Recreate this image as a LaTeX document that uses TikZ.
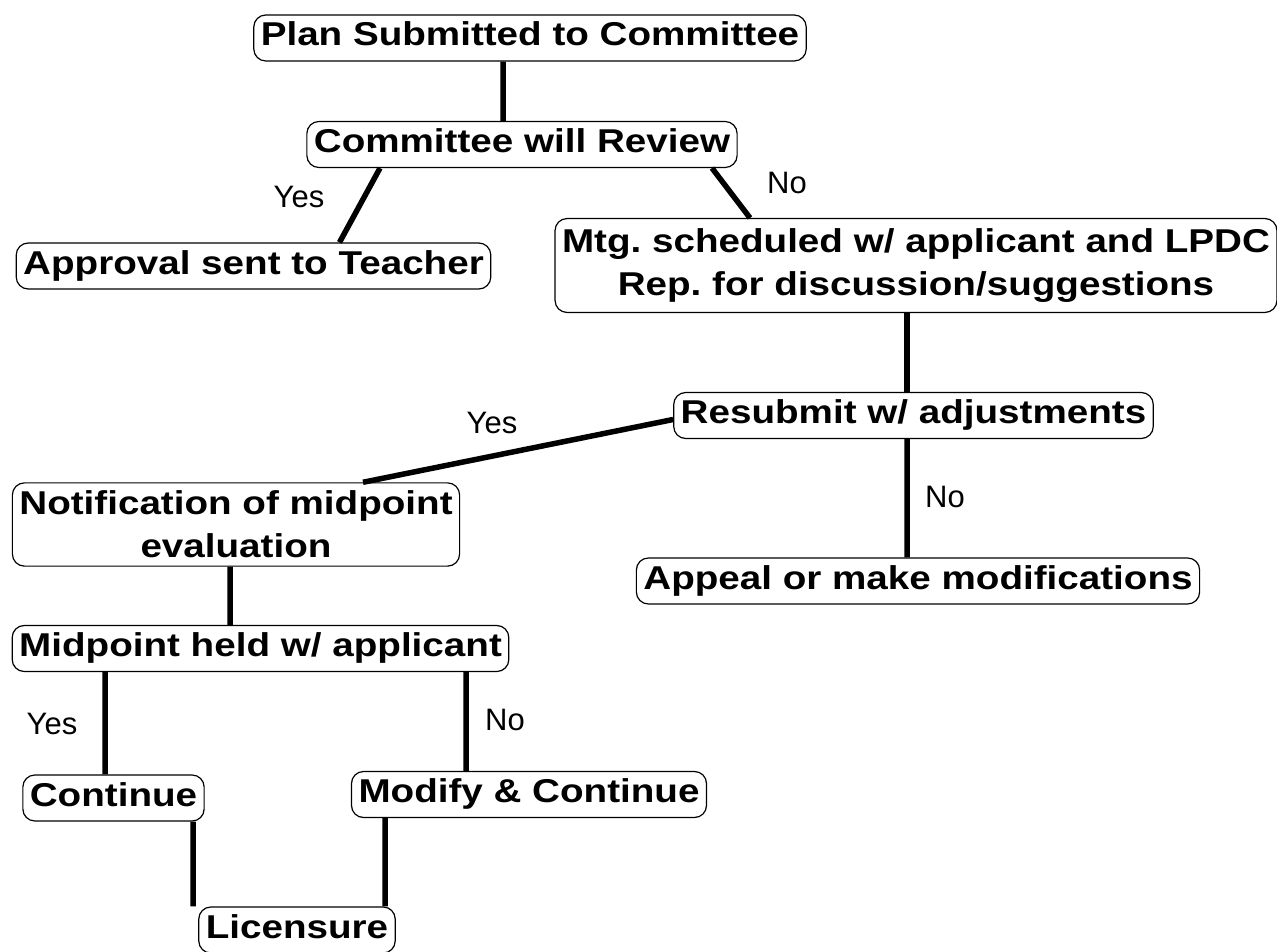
\documentclass[tikz,border=0pt]{standalone}
\usepackage{fontspec}
\setmainfont{Liberation Sans}[FakeStretch=1.17]
\newfontfamily\lblfont{Liberation Sans}
\frenchspacing

\tikzset{
  box/.style={draw, rounded corners=12pt, line width=1.2pt, align=center,
    font=\fontsize{33}{43}\selectfont\bfseries, inner xsep=7pt, inner ysep=8pt},
  oneline/.style={text height=23pt, text depth=7pt},
  ans/.style={font=\lblfont\fontsize{31}{37}\selectfont},
  link/.style={line width=5.5pt}
}

\begin{document}
\begin{tikzpicture}[x=10pt, y=-10pt]

  \useasboundingbox (0, 0) rectangle (127.7, 95.2);

  \node [box, oneline] (plan)   at (53.0,  3.8)  {Plan Submitted to Committee};
  \node [box, oneline] (review) at (52.2,  14.45) {Committee will Review};
  \node [box, oneline] (approve) at (25.35, 26.6) {Approval sent to Teacher};
  \node [box, inner ysep=10pt] (mtg) at (91.6, 26.55)
        {Mtg. scheduled w/ applicant and LPDC\\Rep. for discussion/suggestions};
  \node [box, oneline] (resub)  at (91.35, 41.55) {Resubmit w/ adjustments};
  \node [box] (notif) at (23.6, 52.45) {Notification of midpoint\\evaluation};
  \node [box, oneline] (appeal) at (91.8,  58.1)  {Appeal or make modifications};
  \node [box, oneline] (mid)    at (26.05, 64.85) {Midpoint held w/ applicant};
  \node [box, oneline] (cont)   at (11.35, 79.8)  {Continue};
  \node [box, oneline] (modify) at (52.9,  79.45) {Modify \& Continue};
  \node [box, oneline] (lic)    at (29.7,  93.0)  {Licensure};

  \node [ans] (yes1) at (29.9, 19.7) {Yes};
  \node [ans] (no1)  at (78.7, 18.3) {No};
  \node [ans] (yes2) at (49.2, 42.3) {Yes};
  \node [ans] (no2)  at (94.5, 49.7) {No};
  \node [ans] (yes3) at ( 5.2, 72.4) {Yes};
  \node [ans] (no3)  at (50.5, 72.0) {No};

  \draw [link] ([xshift=-27pt]plan.south) -- ([xshift=-19pt]review.north);
  \draw [link] ([xshift=-142pt]review.south) -- ([xshift=86pt]approve.north);
  \draw [link] ([xshift=190pt]review.south) -- ([xshift=-166pt]mtg.north);
  \draw [link] ([xshift=-9pt]mtg.south) -- ([xshift=-6.5pt]resub.north);
  \draw [link] ([yshift=-4pt]resub.west) -- ([xshift=127pt]notif.north);
  \draw [link] ([xshift=-6.5pt]resub.south) -- ([xshift=-11pt]appeal.north);
  \draw [link] ([xshift=-6pt]notif.south) -- ([xshift=-30.5pt]mid.north);
  \draw [link] ([xshift=-155.5pt]mid.south) -- ([xshift=-8.5pt]cont.north);
  \draw [link] ([xshift=205.5pt]mid.south) -- ([xshift=-63pt]modify.north);
  \draw [link] ([xshift=79.5pt]cont.south) -- ([xshift=-104pt]lic.north);
  \draw [link] ([xshift=-144pt]modify.south) -- ([xshift=88pt]lic.north);

\end{tikzpicture}
\end{document}
